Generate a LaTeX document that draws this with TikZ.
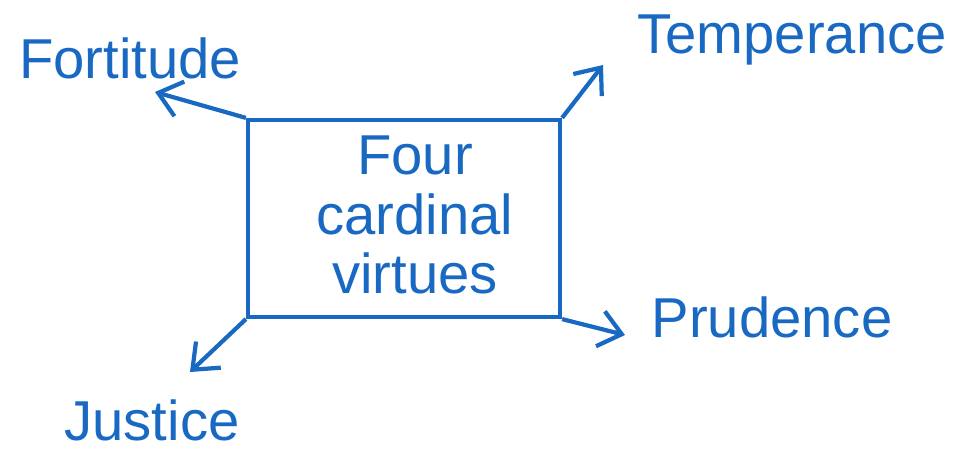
\documentclass[tikz,border=0pt]{standalone}
\usepackage{fontspec}
\setmainfont{Liberation Sans}
\usetikzlibrary{arrows.meta}
\definecolor{penblue}{RGB}{25,105,195}
\tikzset{
  ink/.style={draw=penblue, line width=1.2pt},
  virtue/.style={text=penblue, font=\fontsize{16}{19}\selectfont, inner sep=0pt},
  toward/.style={ink, -{Straight Barb[length=2.2mm,width=3.6mm]}}
}
\begin{document}
\begin{tikzpicture}
\useasboundingbox (0,0) rectangle (9.56,4.5);

% central box
\node[ink, minimum width=3.12cm, minimum height=1.97cm, inner sep=0pt] (box) at (4.04,2.315) {};
\node[virtue, align=center, font=\fontsize{16}{17}\selectfont] (title) at (4.15,2.35) {Four\\cardinal\\virtues};

% the four virtues
\node[virtue] (fortitude) at (1.30,3.92) {Fortitude};
\node[virtue] (temperance) at (7.92,4.10) {Temperance};
\node[virtue] (prudence) at (7.72,1.33) {Prudence};
\node[virtue] (justice) at (1.52,0.30) {Justice};

\coordinate (fortend) at (1.55,3.58);
\coordinate (tempend) at (6.03,3.85);
\coordinate (prudend) at (6.25,1.15);
\coordinate (justend) at (1.90,0.78);

\draw[toward] (box.north west) -- (fortend);
\draw[toward] (box.north east) -- (tempend);
\draw[toward] (box.south east) -- (prudend);
\draw[toward] (box.south west) -- (justend);
\end{tikzpicture}
\end{document}
